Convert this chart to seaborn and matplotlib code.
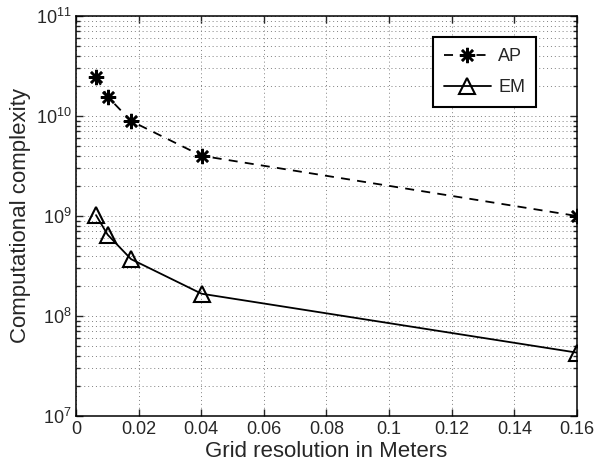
import numpy as np
import pandas as pd
import matplotlib
matplotlib.use("Agg")
import matplotlib.pyplot as plt
import matplotlib.ticker as mticker
import seaborn as sns

# Data
resolution = [0.0064, 0.0101, 0.0176, 0.0401, 0.16]
ap_values = [2.44e10, 1.56e10, 8.9e9, 4.0e9, 1.0e9]
em_values = [1.02e9, 6.5e8, 3.7e8, 1.67e8, 4.3e7]
series_names = ["AP", "EM"]
x_ticks = [0, 0.02, 0.04, 0.06, 0.08, 0.1, 0.12, 0.14, 0.16]
y_ticks = [1e7, 1e8, 1e9, 1e10, 1e11]

sns.set_style("ticks")
plt.rcParams['font.family'] = ['Liberation Sans', 'DejaVu Sans']
plt.rcParams['mathtext.fontset'] = 'custom'
plt.rcParams['mathtext.rm'] = 'Liberation Sans'
plt.rcParams['mathtext.it'] = 'Liberation Sans:italic'
plt.rcParams['mathtext.default'] = 'regular'

df = pd.DataFrame({
    "res": resolution * 2,
    "val": ap_values + em_values,
    "method": [series_names[0]] * len(resolution) + [series_names[1]] * len(resolution),
})

fig = plt.figure(figsize=(5.97, 4.65), dpi=100)
ax = fig.add_axes([0.1273, 0.1054, 0.8392, 0.8602])

sns.lineplot(data=df[df.method == "AP"], x="res", y="val", ax=ax, color="black",
             linestyle="--", marker=(8, 2, 0), markersize=11, markeredgewidth=1.8,
             markeredgecolor="black", markerfacecolor="black",
             linewidth=1.3, label="AP")
sns.lineplot(data=df[df.method == "EM"], x="res", y="val", ax=ax, color="black",
             linestyle="-", marker="^", markersize=12, markerfacecolor="none",
             markeredgecolor="black", markeredgewidth=1.5, linewidth=1.3, label="EM")

ax.lines[0].set_dashes((5, 4))

ax.set_yscale("log")
ax.set_xlim(0, 0.16)
ax.set_ylim(1e7, 1e11)
ax.set_xticks(x_ticks)
ax.xaxis.set_major_formatter(mticker.FuncFormatter(lambda v, p: "%g" % v))
ax.set_yticks(y_ticks)
ax.yaxis.set_major_formatter(mticker.LogFormatterMathtext())
ax.yaxis.set_minor_locator(mticker.LogLocator(base=10, subs=np.arange(2, 10)))
ax.yaxis.set_minor_formatter(mticker.NullFormatter())

gridstyle = dict(linestyle=(0, (1, 3)), color="0.5", linewidth=0.7)
ax.grid(True, which="major", **gridstyle)
ax.yaxis.grid(True, which="minor", **gridstyle)
ax.xaxis.grid(False, which="minor")

ax.tick_params(which="both", direction="in", top=True, right=True, labelsize=13, width=1)
ax.tick_params(which="major", length=5)
ax.tick_params(which="minor", length=3)
ax.tick_params(axis="y", pad=3)
for s in ax.spines.values():
    s.set_linewidth(1.1)
    s.set_color("black")

ax.set_xlabel("Grid resolution in Meters", fontsize=16, labelpad=2)
ax.set_ylabel("Computational complexity", fontsize=16, labelpad=4)

leg = ax.legend(loc="upper right", bbox_to_anchor=(0.918, 0.9475), fontsize=13,
                frameon=True, fancybox=False, handlelength=2.6, borderpad=0.6,
                labelspacing=0.8, handletextpad=0.4, borderaxespad=0)
leg.get_frame().set_edgecolor("black")
leg.get_frame().set_linewidth(1.5)
leg.get_frame().set_alpha(1)

fig.savefig("out.png", dpi=100)
